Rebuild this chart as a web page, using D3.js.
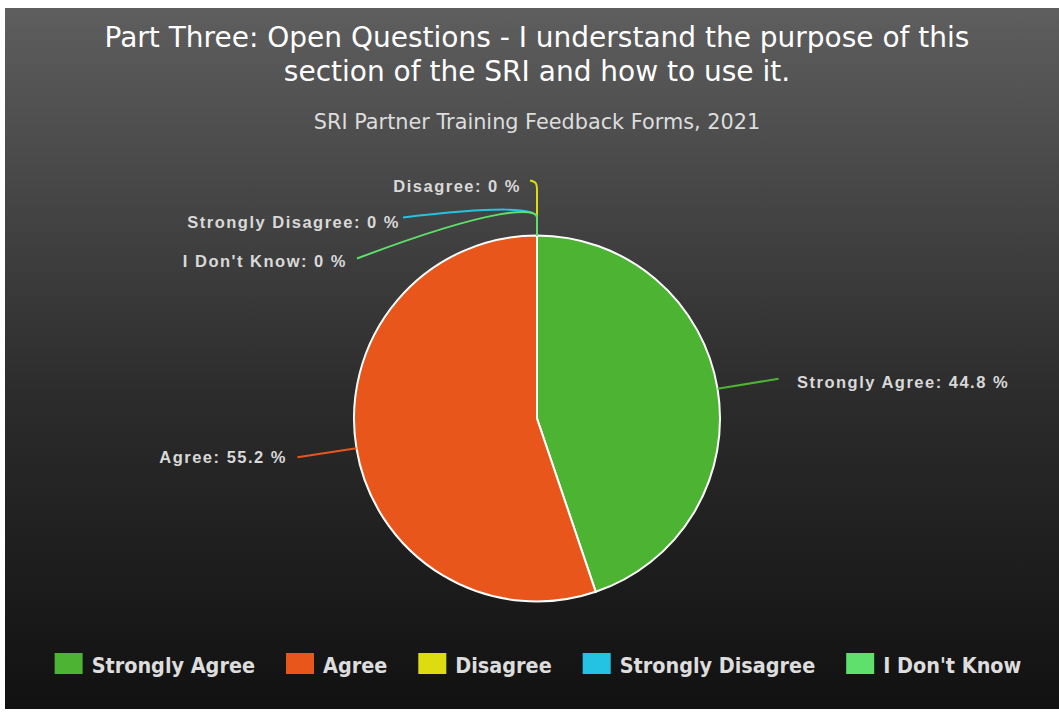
<!DOCTYPE html>
<html>
<head>
<meta charset="utf-8">
<script src="https://cdn.jsdelivr.net/npm/d3@7"></script>
<style>
  html, body { margin: 0; padding: 0; background: #ffffff; }
  svg { display: block; }
</style>
</head>
<body>
<svg id="chart" width="1059" height="713"></svg>
<script>
// Survey responses (percent of respondents)
const categories = ["Strongly Agree", "Agree", "Disagree", "Strongly Disagree", "I Don't Know"];
const values = [44.8, 55.2, 0, 0, 0];
const colors = ["#4db332", "#e8561c", "#dcdc10", "#25c3e3", "#5fe06c"];
const titleLines = ["Part Three: Open Questions - I understand the purpose of this", "section of the SRI and how to use it."];
const subtitle = "SRI Partner Training Feedback Forms, 2021";

const svg = d3.select("#chart");
const W = 1059, H = 713;

// background panel with vertical gradient
const defs = svg.append("defs");
const grad = defs.append("linearGradient").attr("id", "bg").attr("x1", 0).attr("y1", 0).attr("x2", 0).attr("y2", 1);
grad.append("stop").attr("offset", "0%").attr("stop-color", "#5e5e5e");
grad.append("stop").attr("offset", "55%").attr("stop-color", "#2c2c2c");
grad.append("stop").attr("offset", "100%").attr("stop-color", "#111111");
svg.append("rect").attr("x", 5).attr("y", 8).attr("width", W - 5).attr("height", 701).attr("fill", "url(#bg)");

// titles
const titleFont = "'DejaVu Sans', sans-serif";
svg.append("g").selectAll("text").data(titleLines).join("text")
  .attr("x", 537).attr("y", (d, i) => 47 + i * 34)
  .attr("text-anchor", "middle")
  .attr("font-family", titleFont).attr("font-size", 28)
  .attr("fill", "#ffffff").text(d => d);
svg.append("text").attr("x", 537).attr("y", 129).attr("text-anchor", "middle")
  .attr("font-family", titleFont).attr("font-size", 20.8)
  .attr("fill", "#dddddd").text(subtitle);

// pie
const cx = 537, cy = 418.5, R = 183;
const data = categories.map((c, i) => ({ name: c, value: values[i], color: colors[i] }));
const pie = d3.pie().sort(null).value(d => d.value);
const arcs = pie(data);
const arc = d3.arc().innerRadius(0).outerRadius(R);
const g = svg.append("g").attr("transform", `translate(${cx},${cy})`);
g.selectAll("path.slice").data(arcs.filter(a => a.data.value > 0)).join("path")
  .attr("class", "slice")
  .attr("d", arc)
  .attr("fill", d => d.data.color)
  .attr("stroke", "#ffffff").attr("stroke-width", 2);

// label layout: where each callout text ends/starts, relative to the pie centre
const labelLayout = {
  "Strongly Agree":    { anchor: "start", tx: 260, ty: -31, path: (p) => `M${p[0]},${p[1]} L${p[0] + 61},${p[1] - 10}` },
  "Agree":             { anchor: "end",   tx: -250, ty: 44, path: (p) => `M${p[0]},${p[1]} L${p[0] - 59},${p[1] + 9}` },
  "Disagree":          { anchor: "end",   tx: -16, ty: -227, path: (p) => `M${p[0]},${p[1]} L${p[0]},${p[1] - 45} C${p[0]},${p[1] - 52} ${p[0] - 1},${p[1] - 54} ${p[0] - 7},${p[1] - 55}` },
  "Strongly Disagree": { anchor: "end",   tx: -137, ty: -191, path: (p) => `M${p[0]},${p[1]} L${p[0]},${p[1] - 18} C${p[0]},${p[1] - 28} ${p[0] - 40},${p[1] - 29} ${p[0] - 134},${p[1] - 18}` },
  "I Don't Know":      { anchor: "end",   tx: -190, ty: -152, path: (p) => `M${p[0]},${p[1]} L${p[0]},${p[1] - 18} C${p[0]},${p[1] - 28} ${p[0] - 40},${p[1] - 30} ${p[0] - 180},${p[1] + 23}` }
};

const labelG = g.append("g");
arcs.forEach(a => {
  const mid = (a.startAngle + a.endAngle) / 2;
  const p = [Math.sin(mid) * R, -Math.cos(mid) * R];
  const L = labelLayout[a.data.name];
  labelG.append("path").attr("d", L.path(p))
    .attr("fill", "none").attr("stroke", a.data.color).attr("stroke-width", 2);
  labelG.append("text")
    .attr("x", L.tx).attr("y", L.ty)
    .attr("text-anchor", L.anchor)
    .attr("font-family", "'Liberation Sans', Arial, sans-serif")
    .attr("font-weight", "bold").attr("font-size", 16.5)
    .attr("letter-spacing", "1.5px")
    .attr("fill", "#d9d9d9")
    .text(`${a.data.name}: ${d3.format(".3~f")(a.data.value)} %`);
});

// legend
const legendFont = "'DejaVu Sans Condensed', 'DejaVu Sans', sans-serif";
const legend = svg.append("g");
const items = legend.selectAll("g").data(data).join("g");
items.append("rect").attr("width", 28).attr("height", 21).attr("y", -20).attr("fill", d => d.color);
items.append("text").attr("x", 37).attr("y", 0)
  .attr("font-family", legendFont).attr("font-weight", "bold").attr("font-size", 21.4)
  .attr("fill", "#dddddd").text(d => d.name);
const gap = 31;
let widths = [];
items.each(function () { widths.push(37 + d3.select(this).select("text").node().getComputedTextLength()); });
const total = d3.sum(widths) + gap * (widths.length - 1);
let x0 = 538 - total / 2;
items.attr("transform", (d, i) => {
  const x = x0; x0 += widths[i] + gap;
  return `translate(${x},${673})`;
});
</script>
</body>
</html>
